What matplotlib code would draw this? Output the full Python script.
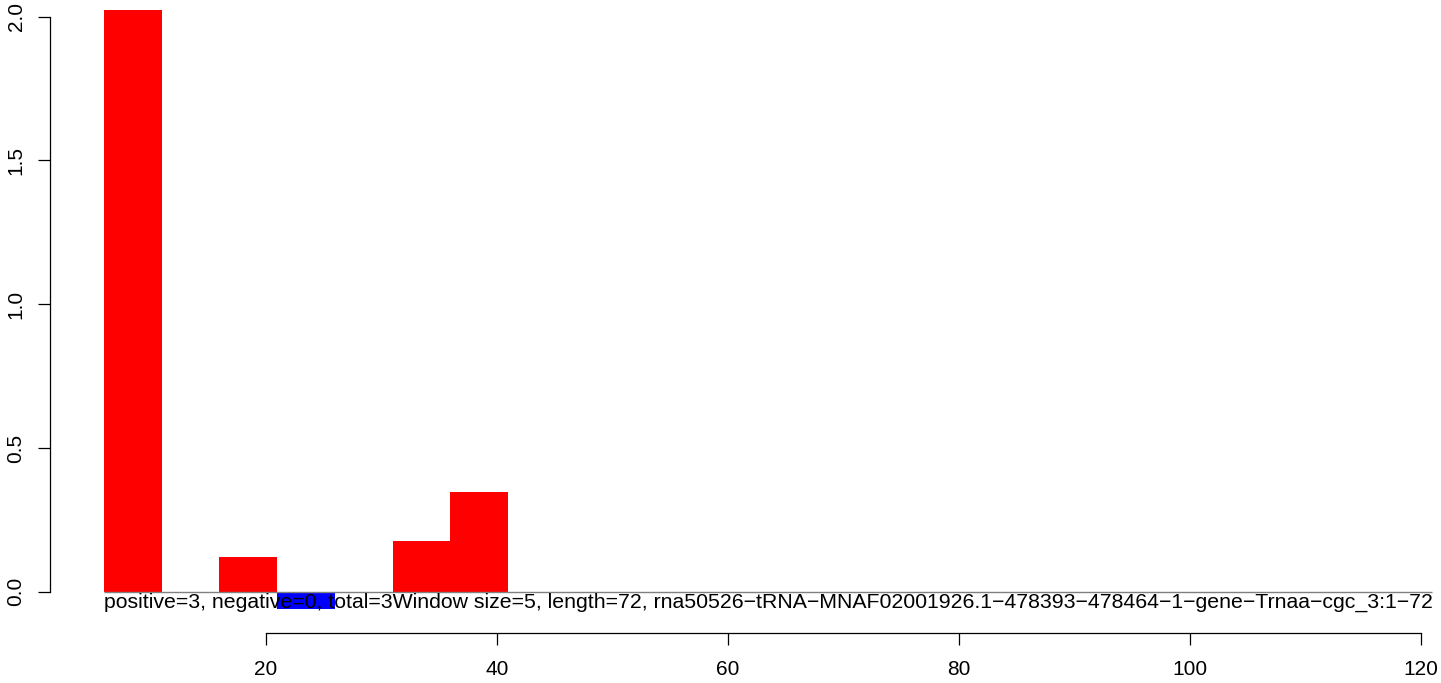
import matplotlib
matplotlib.use("Agg")
import matplotlib.pyplot as plt

plt.rcParams['font.family'] = ['Liberation Sans', 'DejaVu Sans']

# window start positions and scores (window size 5)
win_start = [6, 16, 21, 31, 36]
win_score = [2.022, 0.12, -0.059, 0.175, 0.348]
win_size = 5
x_ticks = [20, 40, 60, 80, 100, 120]
y_ticks = [0.0, 0.5, 1.0, 1.5, 2.0]
info = ("positive=3, negative=0, total=3"
        "Window size=5, length=72, rna50526\u2212tRNA\u2212MNAF02001926.1\u2212478393\u2212478464\u22121\u2212gene\u2212Trnaa\u2212cgc_3:1\u221272")

W, H = 1441, 683
fig = plt.figure(figsize=(W / 100, H / 100), dpi=100)
ax = fig.add_axes([50 / W, (H - 632.7) / H, (W - 50) / W, 632.7 / H])

colors = ["red" if v > 0 else "blue" for v in win_score]
ax.bar(win_start, win_score, width=win_size, align="edge", color=colors, linewidth=0)
ax.hlines(0, 6, 121, color="grey", linewidth=1)
ax.text(6, -0.0555, info, ha="left", va="baseline", fontsize=15.3)

ax.set_xlim(1.325, 121.76)
ax.set_ylim(-0.1426, 2.058)
for s in ["top", "right"]:
    ax.spines[s].set_visible(False)
ax.spines["left"].set_bounds(0, 2)
ax.spines["bottom"].set_bounds(20, 120)
for s in ["left", "bottom"]:
    ax.spines[s].set_linewidth(0.9)
ax.set_xticks(x_ticks)
ax.set_xticklabels([str(t) for t in x_ticks])
ax.set_yticks(y_ticks)
ax.set_yticklabels(["%.1f" % t for t in y_ticks], rotation=90, va="center")
ax.tick_params(length=8.6, width=0.9, labelsize=15)
ax.tick_params(axis="x", pad=11)
ax.tick_params(axis="y", pad=9)

fig.savefig("out.png", dpi=100)
